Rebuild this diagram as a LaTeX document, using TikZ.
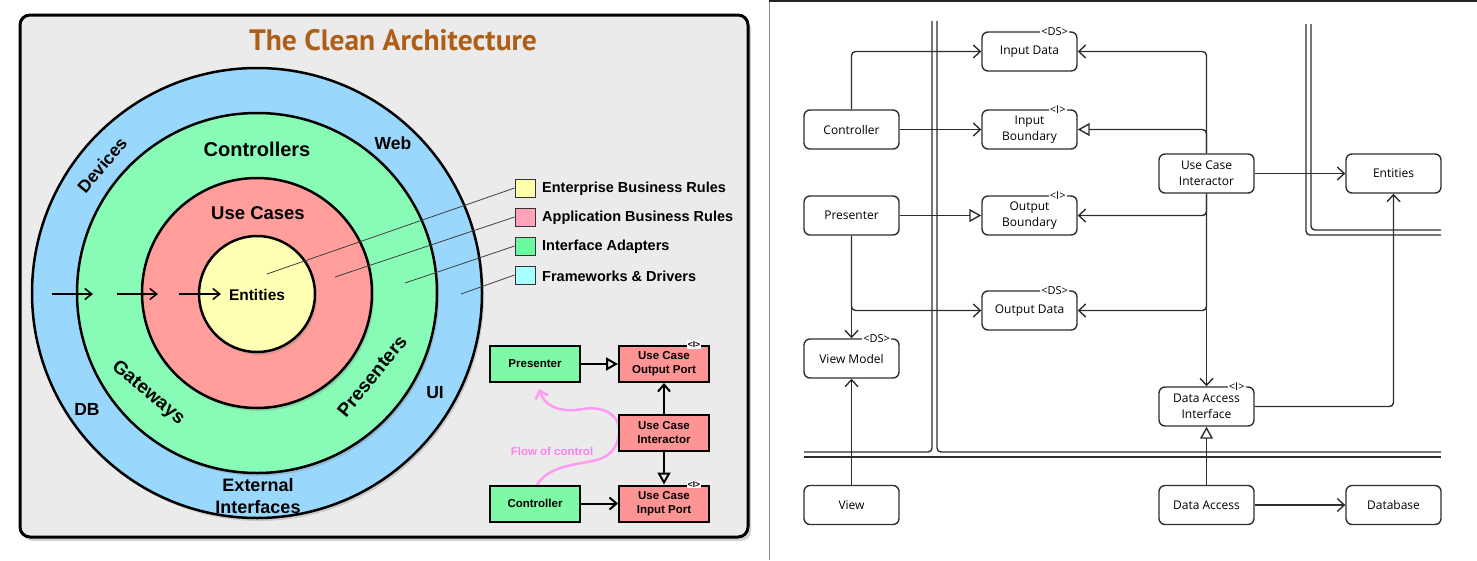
\documentclass[tikz,border=0pt]{standalone}
\usepackage{fontspec}
\setmainfont{Liberation Sans}
\newfontfamily\umlfont{Open Sans}
\newfontfamily\titlefont{PT Sans}
\usetikzlibrary{arrows.meta,shadows}

\definecolor{panelgray}{HTML}{EBEBEB}
\definecolor{ringblue}{HTML}{9AD7FC}
\definecolor{ringgreen}{HTML}{88FCB6}
\definecolor{ringred}{HTML}{FF9E9B}
\definecolor{ringyellow}{HTML}{FFFFB3}
\definecolor{swatchyellow}{HTML}{FFFFAA}
\definecolor{swatchpink}{HTML}{FFA3BA}
\definecolor{swatchgreen}{HTML}{6CFA9E}
\definecolor{swatchcyan}{HTML}{A8FFFF}
\definecolor{portgreen}{HTML}{7EF9A6}
\definecolor{portpink}{HTML}{FF9494}
\definecolor{titlebrown}{HTML}{AD5F17}
\definecolor{flowpink}{HTML}{FF9CF2}
\definecolor{flowtext}{HTML}{FF80EC}
\definecolor{umlline}{HTML}{2E2E2E}

\begin{document}
\begin{tikzpicture}[x=1pt, y=-1pt,
    panel/.style={draw=black, line width=3pt, rounded corners=10pt, fill=panelgray,
                  minimum width=728pt, minimum height=522pt,
                  drop shadow={opacity=0.35, shadow xshift=3pt, shadow yshift=-4pt}},
    ring/.style={circle, draw=black, line width=2.5pt, inner sep=0pt,
                 drop shadow={opacity=0.3, shadow xshift=2pt, shadow yshift=-3pt}},
    layer/.style={font=\bfseries\fontsize{19}{22}\selectfont, inner sep=0pt, align=center},
    outer/.style={font=\bfseries\fontsize{17.5}{22}\selectfont, inner sep=0pt, align=center},
    inward/.style={-{Straight Barb[length=7pt,width=11pt]}, line width=1.5pt},
    leader/.style={draw=black!75, line width=0.8pt},
    swatch/.style={draw=black!80, line width=0.8pt, minimum width=20pt,
                   minimum height=18pt, inner sep=0pt},
    legend/.style={font=\bfseries\fontsize{14.5}{17}\selectfont, anchor=west, inner sep=0pt},
    port/.style={draw=black, line width=2pt, minimum width=90pt, minimum height=36pt,
                 inner sep=0pt, align=center, font=\bfseries\fontsize{11.5}{14}\selectfont},
    tag/.style={fill=white, inner sep=0.6pt, font=\bfseries\fontsize{8.5}{8.5}\selectfont},
    uses/.style={-{Straight Barb[length=7pt,width=12pt]}, line width=2pt},
    realizes/.style={-{Triangle[open,length=12pt,width=13pt]}, line width=2pt},
    flow/.style={-{Straight Barb[length=7pt,width=13pt]}, line width=2.5pt, flowpink},
    box/.style={draw=umlline, line width=1.4pt, rounded corners=6pt, minimum width=95pt,
                minimum height=39pt, inner sep=0pt, align=center,
                font=\umlfont\fontsize{12}{16}\selectfont},
    stereo/.style={fill=white, inner sep=1pt, font=\umlfont\fontsize{11}{11}\selectfont},
    conn/.style={-{Straight Barb[length=7pt,width=13pt]}, draw=umlline, line width=1.4pt,
                 rounded corners=4pt},
    impl/.style={-{Triangle[open,length=12pt,width=13pt]}, draw=umlline, line width=1.4pt,
                 rounded corners=4pt},
    wall/.style={draw=umlline, line width=1.4pt, rounded corners=4pt},
]
\useasboundingbox (0,0) rectangle (1477,560);

% --- Left panel ---
\node[panel] (panel) at (384,276) {};
\node[font=\titlefont\bfseries\fontsize{29.5}{32}\selectfont, text=titlebrown] (title) at (393,40)
    {The Clean Architecture};

% --- Rings ---
\node[ring, fill=ringblue, minimum size=450pt] (frameworks) at (257,293) {};
\node[ring, fill=ringgreen, minimum size=360pt] (adapters) at (257,293) {};
\node[ring, fill=ringred, minimum size=230pt] (usecases) at (257,293) {};
\node[ring, fill=ringyellow, minimum size=116pt] (entities) at (257,294) {};

% --- Ring labels ---
\node[layer, font=\bfseries\fontsize{20}{22}\selectfont] (lblControllers) at (257,149) {Controllers};
\node[layer, font=\bfseries\fontsize{18.5}{22}\selectfont] (lblUseCases) at (258,213) {Use Cases};
\node[layer, font=\bfseries\fontsize{15.5}{18}\selectfont] (lblEntities) at (257,295) {Entities};
\node[layer, rotate=-40] (lblGateways) at (148,393) {Gateways};
\node[layer, rotate=51] (lblPresenters) at (372,376) {Presenters};
\node[outer, rotate=50] (lblDevices) at (102,165) {Devices};
\node[outer] (lblWeb) at (393,143) {Web};
\node[outer] (lblDB) at (87,409) {DB};
\node[outer] (lblUI) at (435,393) {UI};
\node[outer, font=\bfseries\fontsize{18}{22}\selectfont] (lblExternal) at (258,496)
    {External\\Interfaces};

% --- Dependency arrows ---
\draw[inward] (52,294) -- (93,294);
\draw[inward] (117,294) -- (158,294);
\draw[inward] (179,294) -- (221,294);

% --- Legend ---
\node[swatch, fill=swatchyellow] (legY) at (525,188) {};
\node[swatch, fill=swatchpink] (legR) at (525,217) {};
\node[swatch, fill=swatchgreen] (legG) at (525,246) {};
\node[swatch, fill=swatchcyan] (legB) at (525,275) {};
\node[legend] (txtY) at (542,189) {Enterprise Business Rules};
\node[legend] (txtR) at (542,218) {Application Business Rules};
\node[legend] (txtG) at (542,247) {Interface Adapters};
\node[legend] (txtB) at (542,276) {Frameworks \& Drivers};

\coordinate (pinY) at (267,274);
\coordinate (pinR) at (335,277);
\coordinate (pinG) at (405,283);
\coordinate (pinB) at (461,294);
\draw[leader] (pinY) -- (legY.west);
\draw[leader] (pinR) -- (legR.west);
\draw[leader] (pinG) -- (legG.west);
\draw[leader] (pinB) -- (legB.west);

% --- Flow of control ---
\coordinate (flowTip) at (539,389);
\draw[flow] (537,485) .. controls (548,466) and (575,465) .. (597,460)
    .. controls (614,455) and (620,442) .. (619,428)
    .. controls (618,413) and (600,406) .. (583,409)
    .. controls (566,412) and (546,410) .. (flowTip);
\node[font=\bfseries\fontsize{11.5}{14}\selectfont, text=flowtext] (flowLabel) at (552,451)
    {Flow of control};

% --- Ports ---
\node[port, fill=portgreen] (presSmall) at (535,364) {Presenter};
\node[port, fill=portpink] (outPort) at (664,364) {Use Case\\Output Port};
\node[port, fill=portpink] (interactor) at (664,433) {Use Case\\Interactor};
\node[port, fill=portgreen] (ctrlSmall) at (535,503.5) {Controller};
\node[port, fill=portpink] (inPort) at (664,503.5) {Use Case\\Input Port};
\node[tag] (outPortTag) at ([xshift=-16pt]outPort.north east) {<I>};
\node[tag] (inPortTag) at ([xshift=-16pt]inPort.north east) {<I>};

\draw[realizes] (presSmall.east) -- (outPort.west);
\draw[uses] (ctrlSmall.east) -- (inPort.west);
\draw[uses] (interactor.north) -- (outPort.south);
\draw[realizes] (interactor.south) -- (inPort.north);

% --- Right panel frame ---
\draw[black!45, line width=1pt] (769,0) -- (769,560);
\draw[black!85, line width=2pt] (769,1) -- (1477,1);

% --- Boundaries ---
\draw[wall] (932,21) |- (804,452);
\draw[wall] (937,21) |- (1441,452);
\draw[wall] (804,457) -- (1441,457);
\draw[wall] (1306,24) |- (1441,235);
\draw[wall] (1311,24) |- (1441,230);

% --- Classes ---
\node[box] (inData) at (1029.5,51.5) {Input Data};
\node[box] (inBnd) at (1029.5,129.5) {Input\\Boundary};
\node[box] (outBnd) at (1029.5,215.5) {Output\\Boundary};
\node[box] (outData) at (1029.5,310.5) {Output Data};
\node[box] (ctrl) at (851.5,129.5) {Controller};
\node[box] (pres) at (851.5,215.5) {Presenter};
\node[box] (viewModel) at (851.5,358.5) {View Model};
\node[box] (view) at (851.5,505) {View};
\node[box] (uci) at (1206.5,173.5) {Use Case\\Interactor};
\node[box] (ent) at (1393.5,173.5) {Entities};
\node[box] (dai) at (1206.5,406.5) {Data Access\\Interface};
\node[box] (da) at (1206.5,505) {Data Access};
\node[box] (db) at (1393.5,505) {Database};

% --- Stereotypes ---
\node[stereo] (inDataTag) at ([xshift=-23pt]inData.north east) {<DS>};
\node[stereo] (inBndTag) at ([xshift=-20pt]inBnd.north east) {<I>};
\node[stereo] (outBndTag) at ([xshift=-20pt]outBnd.north east) {<I>};
\node[stereo] (outDataTag) at ([xshift=-23pt]outData.north east) {<DS>};
\node[stereo] (viewModelTag) at ([xshift=-23pt]viewModel.north east) {<DS>};
\node[stereo] (daiTag) at ([xshift=-18pt]dai.north east) {<I>};

% --- Connections ---
\draw[conn] (ctrl.north) |- (inData.west);
\draw[conn] (ctrl.east) -- (inBnd.west);
\draw[impl] (pres.east) -- (outBnd.west);
\draw[conn] (pres.south) -- (viewModel.north);
\draw[conn] (pres.south) |- (outData.west);
\draw[conn] (view.north) -- (viewModel.south);
\draw[conn] (uci.north) |- (inData.east);
\draw[impl] (uci.north) |- (inBnd.east);
\draw[conn] (uci.south) |- (outBnd.east);
\draw[conn] (uci.south) |- (outData.east);
\draw[conn] (uci.south) -- (dai.north);
\draw[conn] (uci.east) -- (ent.west);
\draw[conn] (dai.east) -| (ent.south);
\draw[impl] (da.north) -- (dai.south);
\draw[conn] (da.east) -- (db.west);

\end{tikzpicture}
\end{document}
